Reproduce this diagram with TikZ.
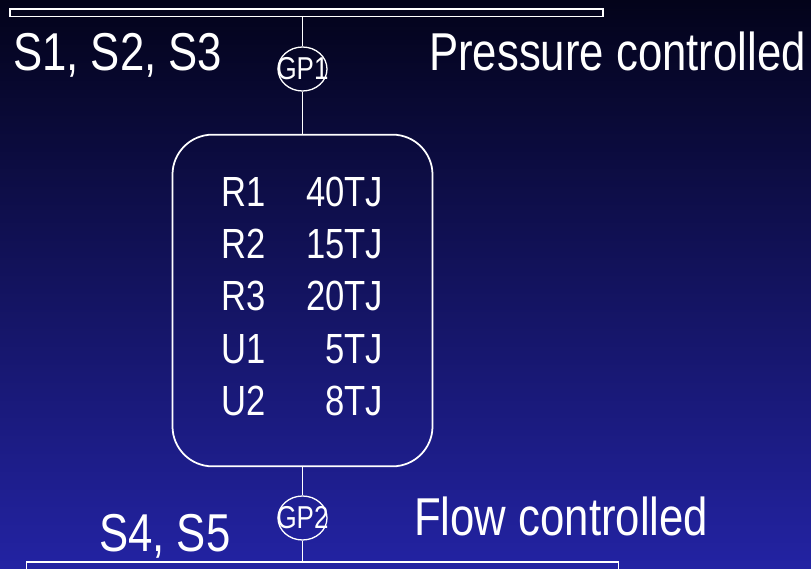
\documentclass[tikz,border=0pt]{standalone}
\usepackage{fontspec}
\setmainfont[FakeStretch=0.82]{Liberation Sans}
\usepackage{xcolor}
\usetikzlibrary{shapes.geometric}
\definecolor{bgtop}{HTML}{03031A}
\definecolor{bgmid}{HTML}{18186E}
\definecolor{bgbot}{HTML}{2323A3}

\begin{document}
\begin{tikzpicture}[x=0.03cm, y=-0.03cm,
  wire/.style={draw=white, line width=1.3pt},
  bar/.style={draw=white, line width=1.3pt, inner sep=0pt, minimum height=7.5*0.03cm},
  gp/.style={ellipse, draw=white, line width=1.1pt, inner sep=0pt, minimum width=1.47cm,
    minimum height=1.32cm, text=white, font=\fontsize{27}{30}\selectfont},
  tank/.style={draw=white, line width=1.5pt, rounded corners=1.2cm, minimum width=7.8cm,
    minimum height=9.95cm, text=white, inner sep=0pt},
  lab/.style={text=white, inner sep=0pt, anchor=base west, font=\fontsize{45.5}{54}\selectfont},
]
\useasboundingbox (0,0) rectangle (811,569);
\shade[top color=bgtop, middle color=bgmid, bottom color=bgbot] (0,0) rectangle (811,569);
\clip (0,0) rectangle (811,569);

\node[bar, minimum width=593*0.03cm] (top) at (306.5,12.8) {};
\node[bar, minimum width=592*0.03cm, minimum height=20*0.03cm] (bot) at (322.5,572) {};
\node[gp] (gp1) at (302.5,69) {\makebox[0pt]{GP1}};
\node[gp] (gp2) at (302.5,518) {\makebox[0pt]{GP2}};
\node[tank] (res) at (302.5,300.5) {\fontsize{36}{44.5}\selectfont
  \begin{tabular}{@{}l@{\hspace{1.2cm}}r@{}}
    R1 & 40TJ\\
    R2 & 15TJ\\
    R3 & 20TJ\\
    U1 & 5TJ\\
    U2 & 8TJ
  \end{tabular}};

\draw[wire] (gp1 |- top.south) -- (gp1);
\draw[wire] (gp1) -- (res);
\draw[wire] (res) -- (gp2);
\draw[wire] (gp2) -- (gp2 |- bot.north);

\node[lab] (src) at (13,71) {S1, S2, S3};
\node[lab] (pc) at (429,71) {Pressure controlled};
\node[lab] (fc) at (414,535) {Flow controlled};
\node[lab] (dst) at (99,551) {S4, S5};
\end{tikzpicture}
\end{document}
